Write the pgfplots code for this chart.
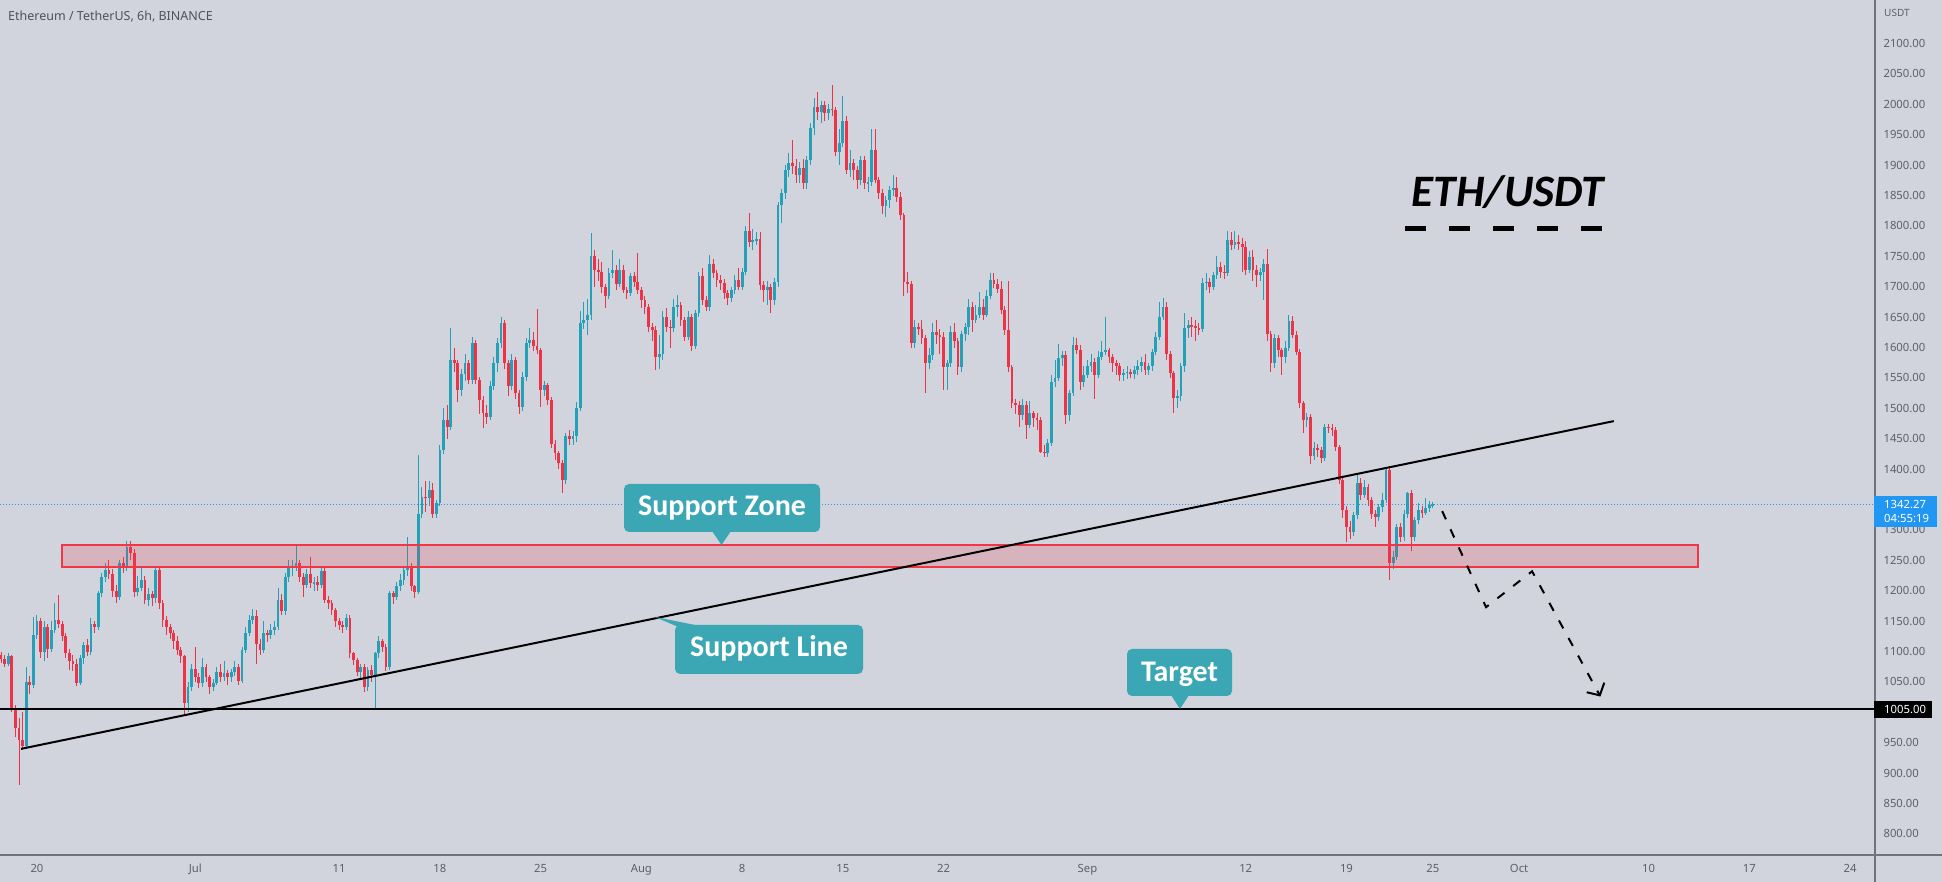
\documentclass[border=0pt]{standalone}
\usepackage{fontspec}
\setmainfont{Noto Sans}
\newfontfamily\calfont{Carlito}
\usepackage{pgfplots}
\pgfplotsset{compat=1.18}
\usepackage{pgfplotstable}
\usetikzlibrary{arrows.meta}
\definecolor{bg}{HTML}{D1D4DC}
\definecolor{upc}{RGB}{36,160,183}
\definecolor{dnc}{RGB}{236,51,72}
\definecolor{zone}{HTML}{F23645}
\definecolor{callout}{RGB}{59,167,181}
\definecolor{txt}{RGB}{92,96,108}
\definecolor{titlec}{RGB}{78,82,94}
\definecolor{pxblue}{HTML}{2196F3}
\definecolor{sep}{RGB}{112,115,125}

\pgfplotstableread{
k o h l c
-10 1095 1100 1082 1088
-9 1088 1095 1075 1080
-8 1080 1098 1076 1092
-7 1092 1095 1000 1005
-6 1005 1012 960 975
-5 975 990 881 955
-4 955 1000 938 945
-3 945 1075 940 1050
-2 1050 1060 1030 1045
-1 1045 1157 1040 1128
0 1128 1160 1120 1150
1 1150 1155 1090 1100
2 1100 1150 1085 1140
3 1140 1145 1090 1105
4 1105 1150 1100 1135
5 1135 1180 1130 1152
6 1152 1193 1138 1145
7 1145 1150 1118 1125
8 1125 1130 1090 1098
9 1098 1105 1070 1085
10 1085 1095 1068 1080
11 1080 1088 1043 1048
12 1048 1095 1045 1090
13 1090 1115 1080 1110
14 1110 1120 1092 1100
15 1100 1155 1095 1145
16 1145 1150 1130 1140
17 1140 1200 1135 1196
18 1196 1230 1190 1222
19 1222 1245 1215 1234
20 1234 1250 1220 1228
21 1228 1235 1190 1200
22 1200 1210 1180 1190
23 1190 1250 1185 1245
24 1245 1255 1230 1238
25 1238 1281 1232 1272
26 1272 1282 1250 1262
27 1262 1268 1190 1198
28 1198 1225 1192 1205
29 1205 1238 1200 1218
30 1218 1225 1178 1185
31 1185 1205 1175 1195
32 1195 1200 1175 1188
33 1188 1240 1180 1234
34 1234 1240 1170 1180
35 1180 1185 1140 1152
36 1152 1158 1128 1140
37 1140 1145 1120 1130
38 1130 1135 1105 1118
39 1118 1125 1095 1103
40 1103 1108 1082 1092
41 1092 1095 998 1015
42 1015 1050 1000 1042
43 1042 1080 1035 1072
44 1072 1108 1050 1058
45 1058 1065 1040 1048
46 1048 1090 1042 1075
47 1075 1080 1050 1058
48 1058 1062 1030 1042
49 1042 1055 1035 1048
50 1048 1075 1045 1066
51 1066 1080 1050 1058
52 1058 1085 1052 1064
53 1064 1070 1045 1058
54 1058 1072 1050 1066
55 1066 1085 1060 1075
56 1075 1080 1045 1052
57 1052 1108 1048 1102
58 1102 1140 1098 1130
59 1130 1160 1125 1152
60 1152 1170 1145 1158
61 1158 1168 1080 1113
62 1113 1120 1095 1103
63 1103 1150 1098 1130
64 1130 1135 1115 1127
65 1127 1145 1120 1135
66 1135 1150 1128 1141
67 1141 1205 1135 1185
68 1185 1195 1160 1166
69 1166 1230 1160 1223
70 1223 1250 1215 1237
71 1237 1250 1225 1240
72 1240 1275 1232 1245
73 1245 1250 1215 1223
74 1223 1230 1190 1210
75 1210 1235 1205 1228
76 1228 1256 1205 1212
77 1212 1222 1200 1215
78 1215 1225 1200 1210
79 1210 1240 1205 1232
80 1232 1238 1180 1185
81 1185 1192 1170 1180
82 1180 1185 1160 1168
83 1168 1172 1140 1150
84 1150 1155 1135 1143
85 1143 1150 1130 1140
86 1140 1162 1135 1155
87 1155 1160 1090 1097
88 1097 1100 1078 1086
89 1086 1090 1060 1067
90 1067 1080 1055 1075
91 1075 1080 1034 1042
92 1042 1075 1035 1070
93 1070 1078 1050 1062
94 1062 1100 1006 1097
95 1097 1125 1090 1118
96 1118 1120 1100 1108
97 1108 1112 1068 1075
98 1075 1200 1070 1196
99 1196 1200 1178 1190
100 1190 1215 1185 1207
101 1207 1228 1200 1218
102 1218 1240 1210 1234
103 1234 1289 1225 1240
104 1240 1245 1200 1207
105 1207 1210 1188 1198
106 1198 1423 1195 1327
107 1327 1370 1320 1355
108 1355 1380 1330 1352
109 1352 1380 1340 1366
110 1366 1378 1320 1327
111 1327 1350 1320 1344
112 1344 1440 1340 1432
113 1432 1500 1425 1481
114 1481 1505 1450 1470
115 1470 1632 1465 1580
116 1580 1600 1560 1574
117 1574 1580 1510 1530
118 1530 1565 1520 1557
119 1557 1590 1545 1574
120 1574 1580 1540 1547
121 1547 1618 1540 1607
122 1607 1612 1540 1547
123 1547 1552 1490 1514
124 1514 1520 1467 1492
125 1492 1505 1475 1486
126 1486 1545 1480 1536
127 1536 1585 1530 1574
128 1574 1615 1560 1607
129 1607 1651 1600 1640
130 1640 1645 1565 1574
131 1574 1580 1520 1536
132 1536 1590 1530 1580
133 1580 1585 1515 1525
134 1525 1530 1490 1503
135 1503 1560 1495 1552
136 1552 1615 1545 1607
137 1607 1632 1600 1612
138 1612 1625 1595 1602
139 1602 1664 1590 1596
140 1596 1600 1503 1530
141 1530 1545 1520 1538
142 1538 1542 1505 1514
143 1514 1518 1435 1442
144 1442 1448 1415 1426
145 1426 1430 1400 1410
146 1410 1415 1360 1382
147 1382 1460 1375 1454
148 1454 1465 1440 1450
149 1450 1462 1440 1455
150 1455 1510 1445 1500
151 1500 1660 1495 1640
152 1640 1675 1630 1645
153 1645 1680 1620 1654
154 1654 1788 1645 1750
155 1750 1760 1700 1727
156 1727 1745 1710 1724
157 1724 1740 1690 1700
158 1700 1705 1665 1684
159 1684 1730 1680 1722
160 1722 1760 1715 1727
161 1727 1735 1695 1705
162 1705 1745 1700 1728
163 1728 1735 1690 1695
164 1695 1700 1680 1690
165 1690 1722 1685 1717
166 1717 1725 1700 1708
167 1708 1756 1688 1695
168 1695 1700 1665 1678
169 1678 1685 1655 1667
170 1667 1672 1625 1634
171 1634 1640 1610 1629
172 1629 1635 1563 1585
173 1585 1620 1565 1590
174 1590 1660 1580 1651
175 1651 1665 1625 1634
176 1634 1645 1600 1632
177 1632 1680 1625 1667
178 1667 1686 1650 1670
179 1670 1675 1635 1645
180 1645 1650 1610 1618
181 1618 1660 1612 1651
182 1651 1655 1595 1602
183 1602 1662 1598 1656
184 1656 1725 1650 1717
185 1717 1730 1670 1678
186 1678 1685 1660 1667
187 1667 1752 1660 1738
188 1738 1745 1715 1722
189 1722 1728 1700 1711
190 1711 1720 1695 1706
191 1706 1712 1680 1689
192 1689 1695 1670 1681
193 1681 1700 1675 1695
194 1695 1720 1688 1711
195 1711 1730 1695 1700
196 1700 1730 1695 1725
197 1725 1800 1720 1791
198 1791 1821 1765 1774
199 1774 1795 1760 1777
200 1777 1790 1768 1778
201 1778 1790 1695 1703
202 1703 1710 1675 1695
203 1695 1710 1670 1700
204 1700 1705 1656 1678
205 1678 1715 1670 1708
206 1708 1840 1700 1834
207 1834 1860 1805 1854
208 1854 1900 1845 1892
209 1892 1920 1880 1903
210 1903 1942 1885 1898
211 1898 1910 1870 1884
212 1884 1905 1870 1895
213 1895 1910 1860 1870
214 1870 1915 1860 1909
215 1909 1970 1900 1961
216 1961 2010 1950 1996
217 1996 2020 1975 1988
218 1988 2005 1970 1999
219 1999 2005 1972 1985
220 1985 2000 1975 1993
221 1993 2032 1980 1990
222 1990 1995 1915 1922
223 1922 1960 1900 1936
224 1936 2013 1930 1972
225 1972 1980 1885 1892
226 1892 1925 1880 1903
227 1903 1910 1875 1892
228 1892 1898 1860 1876
229 1876 1915 1868 1909
230 1909 1915 1860 1870
231 1870 1880 1855 1872
232 1872 1960 1865 1925
233 1925 1960 1870 1876
234 1876 1880 1845 1854
235 1854 1860 1820 1832
236 1832 1850 1815 1843
237 1843 1865 1830 1859
238 1859 1883 1850 1862
239 1862 1880 1840 1848
240 1848 1855 1810 1818
241 1818 1822 1685 1708
242 1708 1725 1690 1705
243 1705 1710 1600 1607
244 1607 1645 1600 1634
245 1634 1640 1620 1631
246 1631 1645 1605 1615
247 1615 1620 1525 1574
248 1574 1600 1565 1588
249 1588 1640 1580 1626
250 1626 1645 1605 1620
251 1620 1630 1590 1618
252 1618 1625 1530 1568
253 1568 1580 1530 1574
254 1574 1635 1568 1626
255 1626 1640 1600 1610
256 1610 1615 1555 1568
257 1568 1628 1560 1623
258 1623 1640 1610 1634
259 1634 1680 1620 1667
260 1667 1675 1625 1645
261 1645 1670 1640 1654
262 1654 1692 1648 1667
263 1667 1680 1645 1654
264 1654 1695 1650 1684
265 1684 1722 1680 1711
266 1711 1722 1698 1705
267 1705 1712 1690 1697
268 1697 1710 1655 1662
269 1662 1668 1620 1629
270 1629 1710 1560 1568
271 1568 1572 1500 1508
272 1508 1515 1490 1505
273 1505 1512 1470 1489
274 1489 1515 1480 1505
275 1505 1512 1450 1473
276 1473 1512 1468 1492
277 1492 1495 1470 1484
278 1484 1492 1465 1481
279 1481 1485 1426 1429
280 1429 1440 1420 1426
281 1426 1450 1420 1443
282 1443 1555 1438 1544
283 1544 1580 1535 1550
284 1550 1605 1545 1582
285 1582 1595 1570 1588
286 1588 1595 1475 1489
287 1489 1530 1480 1525
288 1525 1618 1520 1604
289 1604 1615 1590 1596
290 1596 1605 1530 1544
291 1544 1570 1535 1555
292 1555 1580 1550 1569
293 1569 1590 1560 1577
294 1577 1582 1515 1555
295 1555 1595 1550 1585
296 1585 1610 1580 1593
297 1593 1651 1588 1596
298 1596 1600 1575 1585
299 1585 1590 1560 1574
300 1574 1580 1555 1569
301 1569 1575 1545 1555
302 1555 1565 1545 1558
303 1558 1570 1548 1560
304 1560 1565 1550 1556
305 1556 1570 1548 1563
306 1563 1580 1555 1569
307 1569 1585 1560 1577
308 1577 1590 1555 1563
309 1563 1575 1555 1569
310 1569 1598 1562 1593
311 1593 1625 1588 1618
312 1618 1675 1612 1651
313 1651 1681 1645 1667
314 1667 1675 1580 1590
315 1590 1595 1550 1558
316 1558 1562 1492 1517
317 1517 1530 1500 1520
318 1520 1575 1512 1569
319 1569 1657 1560 1632
320 1632 1645 1615 1637
321 1637 1650 1618 1635
322 1635 1645 1610 1632
323 1632 1640 1620 1630
324 1630 1715 1625 1706
325 1706 1722 1695 1708
326 1708 1715 1690 1700
327 1700 1725 1695 1719
328 1719 1750 1712 1733
329 1733 1740 1715 1725
330 1725 1735 1712 1722
331 1722 1791 1718 1777
332 1777 1790 1760 1768
333 1768 1792 1762 1774
334 1774 1785 1760 1771
335 1771 1780 1725 1766
336 1766 1775 1720 1728
337 1728 1758 1722 1749
338 1749 1760 1710 1728
339 1728 1735 1700 1719
340 1719 1730 1710 1725
341 1725 1745 1678 1738
342 1738 1762 1610 1623
343 1623 1628 1560 1574
344 1574 1622 1567 1615
345 1615 1620 1585 1596
346 1596 1600 1555 1585
347 1585 1610 1575 1600
348 1600 1653 1595 1643
349 1643 1652 1615 1621
350 1621 1628 1588 1593
351 1593 1598 1500 1508
352 1508 1512 1460 1481
353 1481 1492 1470 1486
354 1486 1490 1408 1421
355 1421 1445 1415 1434
356 1434 1442 1420 1432
357 1432 1436 1410 1418
358 1418 1474 1414 1470
359 1470 1475 1460 1467
360 1467 1475 1455 1465
361 1465 1470 1430 1437
362 1437 1440 1375 1382
363 1382 1388 1320 1333
364 1333 1340 1281 1305
365 1305 1315 1285 1297
366 1297 1330 1290 1324
367 1324 1393 1318 1377
368 1377 1385 1350 1358
369 1358 1382 1352 1371
370 1371 1376 1340 1349
371 1349 1355 1318 1327
372 1327 1332 1305 1322
373 1322 1342 1315 1338
374 1338 1360 1330 1349
375 1349 1404 1345 1399
376 1399 1404 1218 1245
377 1245 1265 1235 1256
378 1256 1310 1250 1305
379 1305 1312 1280 1289
380 1289 1332 1282 1327
381 1327 1363 1320 1360
382 1360 1365 1265 1289
383 1289 1322 1282 1316
384 1316 1345 1310 1333
385 1333 1340 1320 1328
386 1328 1352 1325 1336
387 1336 1348 1330 1341
388 1341 1346 1336 1342.27
}\candles

\pgfplotsset{
  candle/.style={only marks, mark=none, mark size=0pt, mark options={draw=none, fill=none, opacity=0},
    error bars/y dir=both, error bars/y explicit, error bars/error mark=none},
  upsel/.style={restrict expr to domain={\thisrow{c}-\thisrow{o}}{0:100000}},
  dnsel/.style={restrict expr to domain={\thisrow{c}-\thisrow{o}}{-100000:-0.001}},
}

\begin{document}
\begin{tikzpicture}[x=1pt,y=1pt]
\fill[bg] (0,0) rectangle (1942,882);
\begin{axis}[
  at={(0pt,27pt)}, anchor=south west, scale only axis,
  width=1875pt, height=855pt,
  xmin=-2.571, xmax=127.73, ymin=765.4, ymax=2171.6,
  axis line style={draw=none}, tick style={draw=none},
  scaled y ticks=false,
  ytick={800,850,900,950,1050,1100,1150,1200,1250,1300,1400,1450,1500,1550,1600,1650,1700,1750,1800,1850,1900,1950,2000,2050,2100},
  yticklabel pos=right,
  y tick label style={/pgf/number format/fixed, /pgf/number format/fixed zerofill,
    /pgf/number format/precision=2, /pgf/number format/1000 sep={},
    /pgf/number format/assume math mode=true,
    anchor=west, xshift=5pt, text=txt, font=\fontsize{11.3}{13}\selectfont},
  xtick={0,11,21,28,35,42,49,56,63,73,84,91,97,103,112,119,126},
  xticklabels={20,Jul,11,18,25,Aug,8,15,22,Sep,12,19,25,Oct,10,17,24},
  x tick label style={anchor=base, yshift=-18pt, text=txt, font=\fontsize{11.3}{13}\selectfont},
]
% current price line
\addplot[pxblue, line width=1pt, dash pattern=on 1pt off 2pt] coordinates {(-2.571,1342.27) (127.73,1342.27)};
% candles: wicks and bodies
\addplot[candle, upsel, error bars/error bar style={upc, line width=1pt}]
  table[x expr=\thisrow{k}*0.25, y expr={(\thisrow{h}+\thisrow{l})/2}, y error expr={(\thisrow{h}-\thisrow{l})/2}] {\candles};
\addplot[candle, dnsel, error bars/error bar style={dnc, line width=1pt}]
  table[x expr=\thisrow{k}*0.25, y expr={(\thisrow{h}+\thisrow{l})/2}, y error expr={(\thisrow{h}-\thisrow{l})/2}] {\candles};
\addplot[candle, upsel, error bars/error bar style={upc, line width=2.8pt}]
  table[x expr=\thisrow{k}*0.25, y expr={(\thisrow{o}+\thisrow{c})/2}, y error expr={max(abs(\thisrow{c}-\thisrow{o})/2,0.9)}] {\candles};
\addplot[candle, dnsel, error bars/error bar style={dnc, line width=2.8pt}]
  table[x expr=\thisrow{k}*0.25, y expr={(\thisrow{o}+\thisrow{c})/2}, y error expr={max(abs(\thisrow{c}-\thisrow{o})/2,0.9)}] {\candles};
% support zone
\addplot[draw=zone, line width=2pt, fill=zone, fill opacity=0.2] coordinates {(1.72,1239.5) (115.4,1239.5) (115.4,1275.2) (1.72,1275.2)} -- cycle;
% target line and support line
\addplot[black, line width=2pt] coordinates {(-2.571,1005) (127.73,1005)};
\addplot[black, line width=2pt] coordinates {(-1.108,940) (109.58,1479)};
% projected path
\addplot[black, line width=2pt, dash pattern=on 9pt off 11pt, -{Straight Barb[length=9pt,width=20pt]}] coordinates {(97.65,1331) (100.7,1173) (103.9,1232) (108.65,1026)};
% ETH/USDT underline
\addplot[black, line width=5pt, dash pattern=on 21pt off 23pt] coordinates {(95.07,1795) (108.76,1795)};
\end{axis}
% frame separators
\draw[sep, line width=1.2pt] (1875,0) -- (1875,882);
\draw[sep, line width=1.2pt] (0,27) -- (1942,27);
% title and unit
\node[anchor=base west, inner sep=0, text=titlec, font=\fontsize{12.5}{15}\selectfont] at (8,861.5) {Ethereum / TetherUS, 6h, BINANCE};
\node[anchor=base west, inner sep=0, text=txt, font=\fontsize{10}{12}\selectfont] at (1884,865) {USDT};
% price labels
\fill[pxblue] (1874,386) rectangle (1937,355);
\node[anchor=base west, inner sep=0, white, font=\fontsize{11.3}{13}\selectfont] at (1884,373) {1342.27};
\node[anchor=base west, inner sep=0, white, font=\fontsize{11.3}{13}\selectfont] at (1884,359) {04:55:19};
\fill[black] (1874,181) rectangle (1932,164);
\node[anchor=base west, inner sep=0, white, font=\fontsize{11.3}{13}\selectfont] at (1884,168.5) {1005.00};
% callouts
\fill[callout, rounded corners=5pt] (624,398) rectangle (820,350);
\fill[callout] (712,351) -- (731,351) -- (721.5,337) -- cycle;
\node[anchor=base, inner sep=0, white, font=\calfont\fontsize{30}{36}\selectfont\bfseries] at (722,366) {Support Zone};
\fill[callout, rounded corners=5pt] (675,257) rectangle (863,208);
\fill[callout] (655,265) -- (676,256) -- (700,256) -- cycle;
\node[anchor=base, inner sep=0, white, font=\calfont\fontsize{30}{36}\selectfont\bfseries] at (769,225) {Support Line};
\fill[callout, rounded corners=5pt] (1127,233) rectangle (1232,186);
\fill[callout] (1171,187) -- (1189,187) -- (1180,173) -- cycle;
\node[anchor=base, inner sep=0, white, font=\calfont\fontsize{30}{36}\selectfont\bfseries] at (1179.5,200) {Target};
% ETH/USDT
\node[anchor=base, inner sep=0, black, font=\calfont\fontsize{45}{54}\selectfont\bfseries\itshape] at (1508,675.3) {ETH/USDT};
\pgfresetboundingbox
\useasboundingbox (0,0) rectangle (1942,882);
\end{tikzpicture}
\end{document}
